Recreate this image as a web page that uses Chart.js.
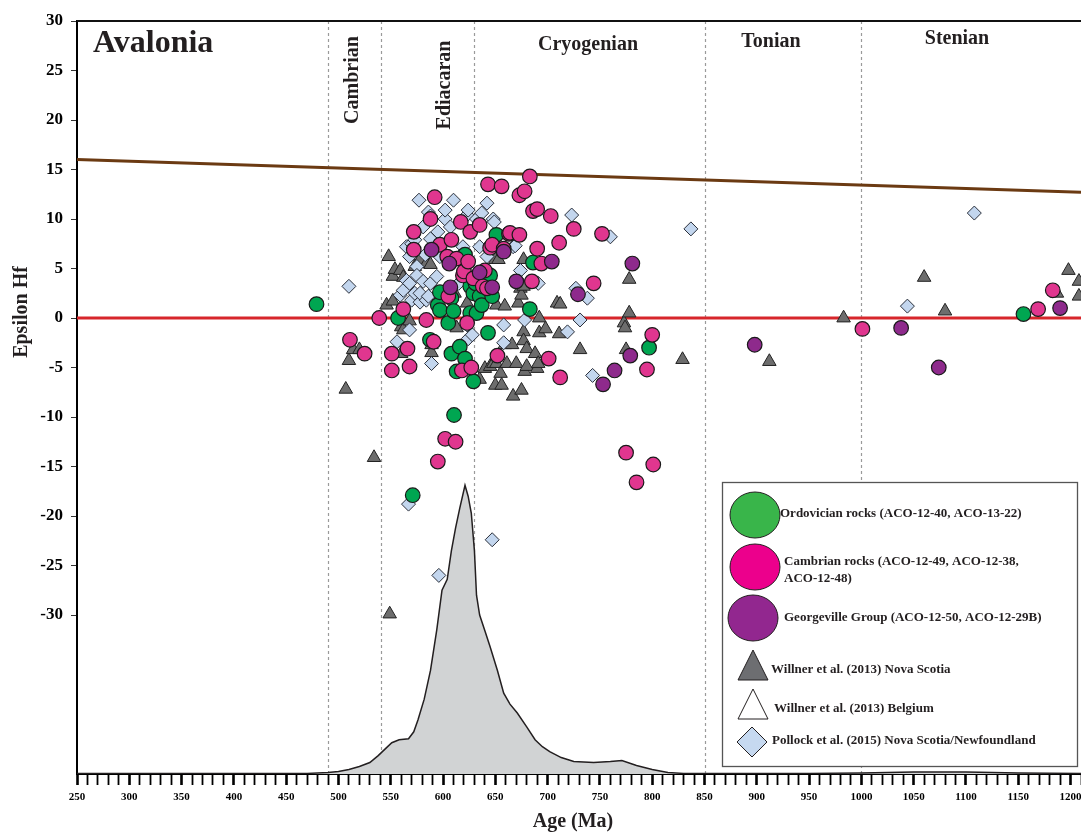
<!DOCTYPE html>
<html>
<head>
<meta charset="utf-8">
<script src="https://cdn.jsdelivr.net/npm/chart.js@4.4.0/dist/chart.umd.min.js"></script>
<style>
  html, body { margin: 0; padding: 0; background: #fff; }
  #wrap { width: 1081px; height: 834px; }
</style>
</head>
<body>
<div id="wrap"><canvas id="chart" width="1081" height="834"></canvas></div>
<script>
// ---- data (age Ma, epsilon Hf) ----
const ordovician = [[479,1.4],[557,0],[571,-17.9],[587.5,-2.2],[595,1.3],[597,2.6],[597,0.8],[605,-0.5],[608,-3.6],[608,2.0],[610,0.7],[610.5,-9.8],[613,-5.4],[616,-2.9],[619,6.2],[621,-4.1],[621,6.4],[626,3.2],[626,0.5],[629,-6.4],[629,2.5],[631,3.5],[632,0.5],[635,2.2],[637,1.3],[637,4.3],[643,-1.5],[645,4.3],[647,2.2],[651,8.4],[683,0.9],[686,5.6],[797,-3.0],[1155,0.4]];
const cambrian = [[511,-2.2],[525,-3.6],[539,0],[551,-3.6],[551,-5.3],[562,0.9],[566,-3.1],[568,-4.9],[572,8.7],[572,6.9],[584,-0.2],[588,10.0],[591,-2.4],[592,12.2],[595,-14.5],[597,7.4],[602,-12.2],[604,6.2],[605,2.2],[608,7.9],[612,-12.5],[613,6.0],[617,9.7],[618,-5.3],[619,4.3],[620,4.7],[623,-0.5],[624,5.7],[626,8.7],[627,-5.0],[629,4.0],[635,9.4],[638,3.2],[640,4.8],[642,3.0],[643,13.5],[645,7.1],[647,7.4],[652,-3.8],[656,13.3],[658,7.0],[663,8.5],[664,8.6],[673,8.4],[673,12.4],[678,12.8],[683,14.3],[685,3.7],[686,10.8],[690,11.0],[690,7.0],[694,5.5],[701,-4.1],[703,10.3],[711,7.6],[712,-6.0],[725,9.0],[744,3.5],[752,8.5],[775,-13.6],[785,-16.6],[795,-5.2],[800,-1.7],[801,-14.8],[1001,-1.1],[1169,0.9],[1183,2.8]];
const georgeville = [[589,6.9],[606,5.5],[607,3.1],[635,4.6],[647,3.1],[658,6.7],[670,3.7],[704,5.7],[729,2.4],[753,-6.7],[764,-5.3],[779,-3.8],[781,5.5],[898,-2.7],[1038,-1.0],[1074,-5.0],[1190,1.0]];
const willnerNS = [[507,-7.2],[510,-4.3],[514,-3.2],[520,-3.2],[534,-14.1],[546,1.3],[548,6.2],[549,-29.9],[552,1.7],[552,4.2],[554,4.9],[559,4.8],[560,-0.9],[560,-3.6],[562,4.1],[562,-1.2],[568,-0.3],[573,5.2],[576,5.5],[578,5.9],[584,5.5],[588,5.4],[589,-3.5],[589,-2.7],[611,2.5],[613,-1.0],[623,1.5],[635,1.1],[635,-6.2],[640,-5.1],[645,-4.9],[648,-4.6],[650,5.9],[650,-6.8],[651,1.3],[651,-4.6],[653,5.9],[655,-5.6],[656,-6.8],[659,1.2],[659,-2.7],[661,-4.6],[666,-2.7],[667,-7.9],[670,-4.6],[672,1.5],[674,3.0],[675,2.3],[675,-7.3],[677,5.9],[677,3.2],[677,-1.4],[677,-2.3],[678,-5.4],[680,-3.1],[680,-4.9],[688,-3.6],[690,-5.1],[691,-4.6],[692,0],[692,-1.5],[698,-1.1],[709,1.5],[711,-1.6],[712,1.4],[731,-3.2],[773,-0.5],[774,-1.0],[775,-3.2],[778,0.5],[778,3.9],[829,-4.2],[912,-4.4],[983,0],[1060,4.1],[1080,0.7],[1187,2.5],[1198,4.8],[1208,3.7],[1208,2.2]];
const willnerBelgium = [];
const pollock = [[510,3.2],[556,-2.4],[559,2.3],[562,2.8],[565,7.2],[565,3.8],[567,-18.8],[568,-1.2],[568,3.5],[568,6.2],[570,7.5],[570,1.8],[573,7.9],[573,2.5],[575,5.2],[575,4.3],[577,11.9],[578,1.6],[578,2.5],[581,9.2],[581,3.7],[583,6.4],[584,1.8],[586,10.7],[586,2.2],[588,10.3],[588,8.0],[588,3.5],[589,-4.6],[594,4.2],[595,8.7],[596,-26.0],[597,6.2],[602,10.0],[602,10.9],[607,9.2],[610,11.9],[615,3.5],[619,7.2],[623,10.4],[623,-0.7],[624,10.9],[624,-2.1],[628,-1.7],[632,10.0],[635,7.2],[637,10.6],[642,11.6],[642,6.2],[647,-22.4],[648,10.0],[649,9.7],[655,6.9],[658,-0.7],[658,-2.5],[667,7.2],[669,7.3],[674,4.8],[678,-0.2],[691,3.5],[719,-1.4],[723,10.4],[727,3.0],[731,-0.2],[738,2.0],[743,-5.8],[760,8.2],[837,9.0],[1044,1.2],[1108,10.6]];

// depleted mantle and CHUR reference lines
const dmAge = [250, 1210];
const dmEps = [16.0, 12.7];
const churAge = [250, 1210];
const churEps = [0, 0];

// detrital zircon age distribution (drawn on the epsilon scale, baseline at the bottom)
const densityAge = [250,450,470,490,500,510,520,530,538,545,551,558,567,572,576,582,588,594,599,604,608,612,616,621,624,627,630,632,635,640,645,652,658,664,671,680,688,695,702,713,725,744,760,771,785,800,815,830,870,950,1000,1050,1100,1150,1210];
const densityVal = [-46,-46,-46,-45.9,-45.8,-45.6,-45.3,-44.9,-44.2,-43.5,-42.9,-42.6,-42.5,-41.8,-40.6,-38.5,-35.6,-31.5,-27.5,-26.4,-23.5,-21.2,-19.2,-16.9,-18.0,-19.7,-23.5,-28.0,-30.0,-31.6,-33.2,-35.6,-37.9,-39.0,-39.9,-41.3,-42.6,-43.3,-43.8,-44.4,-44.8,-44.9,-44.8,-44.7,-45.2,-45.6,-45.9,-46,-46,-46,-45.95,-45.85,-45.85,-45.95,-46];

const boundaries = [490, 541, 630, 850, 1000];
const yTicks = [-30,-25,-20,-15,-10,-5,0,5,10,15,20,25,30];
const xTicks = [];
for (let v = 250; v <= 1210; v += 10) xTicks.push(v);

const SERIF = "'Liberation Serif', 'Times New Roman', serif";

function pts(arr) { return arr.map(p => ({ x: p[0], y: p[1] })); }
function zip(a, b) { return a.map((v, i) => ({ x: v, y: b[i] })); }

const decorPlugin = {
  id: 'decor',
  beforeDatasetsDraw(chart) {
    const { ctx, chartArea: a, scales: { x } } = chart;
    ctx.save();
    ctx.strokeStyle = '#9a9a9a';
    ctx.lineWidth = 1.2;
    ctx.setLineDash([3, 3]);
    boundaries.forEach(b => {
      const px = Math.round(x.getPixelForValue(b)) + 0.5;
      ctx.beginPath(); ctx.moveTo(px, a.top); ctx.lineTo(px, a.bottom); ctx.stroke();
    });
    ctx.setLineDash([]);
    ctx.strokeStyle = '#111';
    ctx.lineWidth = 2;
    ctx.beginPath(); ctx.moveTo(a.left, a.top); ctx.lineTo(a.right, a.top); ctx.stroke();
    ctx.restore();
  },
  afterDraw(chart) {
    const { ctx } = chart;
    ctx.save();
    ctx.fillStyle = '#231f20';
    // title inside plot
    ctx.font = 'bold 32px ' + SERIF;
    ctx.textAlign = 'left'; ctx.textBaseline = 'alphabetic';
    ctx.fillText('Avalonia', 93, 52);
    // periods
    ctx.font = 'bold 20px ' + SERIF;
    ctx.textAlign = 'center'; ctx.textBaseline = 'middle';
    ctx.fillText('Cryogenian', 588, 45);
    ctx.fillText('Tonian', 771, 42);
    ctx.fillText('Stenian', 957, 39);
    [['Cambrian', 353, 80], ['Ediacaran', 445, 85]].forEach(t => {
      ctx.save(); ctx.translate(t[1], t[2]); ctx.rotate(-Math.PI / 2);
      ctx.fillText(t[0], 0, 0); ctx.restore();
    });
    // axis titles
    ctx.font = 'bold 20px ' + SERIF;
    ctx.fillText('Age (Ma)', 573, 822);
    ctx.save(); ctx.translate(22, 312); ctx.rotate(-Math.PI / 2);
    ctx.fillText('Epsilon Hf', 0, 0); ctx.restore();

    // legend box
    ctx.fillStyle = '#fff';
    ctx.fillRect(722, 482, 355, 284);
    ctx.strokeStyle = '#555'; ctx.lineWidth = 1.3;
    ctx.strokeRect(722.5, 482.5, 355, 284);
    ctx.strokeStyle = '#231f20'; ctx.lineWidth = 1;
    const ell = (cx, cy, col) => {
      ctx.beginPath(); ctx.ellipse(cx, cy, 25, 23, 0, 0, Math.PI * 2);
      ctx.fillStyle = col; ctx.fill(); ctx.stroke();
    };
    ell(755, 515, '#39b54a');
    ell(755, 567, '#ec008c');
    ell(753, 618, '#92278f');
    const tri = (cx, top, col) => {
      ctx.beginPath(); ctx.moveTo(cx, top); ctx.lineTo(cx + 15, top + 30); ctx.lineTo(cx - 15, top + 30); ctx.closePath();
      ctx.fillStyle = col; ctx.fill(); ctx.stroke();
    };
    tri(753, 650, '#6d6e71');
    tri(753, 689, '#ffffff');
    ctx.beginPath(); ctx.moveTo(752, 727); ctx.lineTo(767, 742); ctx.lineTo(752, 757); ctx.lineTo(737, 742); ctx.closePath();
    ctx.fillStyle = '#c6d9f0'; ctx.fill(); ctx.stroke();

    ctx.fillStyle = '#231f20';
    ctx.font = 'bold 13px ' + SERIF;
    ctx.textAlign = 'left'; ctx.textBaseline = 'middle';
    ctx.fillText('Ordovician rocks (ACO-12-40, ACO-13-22)', 780, 514);
    ctx.fillText('Cambrian rocks (ACO-12-49, ACO-12-38,', 784, 562);
    ctx.fillText('ACO-12-48)', 784, 579);
    ctx.fillText('Georgeville Group (ACO-12-50, ACO-12-29B)', 784, 618);
    ctx.fillText('Willner et al. (2013) Nova Scotia', 771, 670);
    ctx.fillText('Willner et al. (2013) Belgium', 774, 709);
    ctx.fillText('Pollock et al. (2015) Nova Scotia/Newfoundland', 772, 741);
    ctx.restore();
  }
};

const circle = (label, data, fill, order) => ({
  type: 'scatter', label, data: pts(data), order,
  pointStyle: 'circle', pointRadius: 7.3, pointBackgroundColor: fill,
  pointBorderColor: '#1a1a1a', pointBorderWidth: 1.2, pointHoverRadius: 7.3
});

new Chart(document.getElementById('chart'), {
  type: 'scatter',
  data: {
    datasets: [
      circle('Georgeville Group (ACO-12-50, ACO-12-29B)', georgeville, '#8e2a8c', 1),
      circle('Cambrian rocks (ACO-12-49, ACO-12-38, ACO-12-48)', cambrian, '#e0368f', 2),
      circle('Ordovician rocks (ACO-12-40, ACO-13-22)', ordovician, '#00a651', 3),
      { type: 'scatter', label: 'Pollock et al. (2015) Nova Scotia/Newfoundland', data: pts(pollock), order: 4,
        pointStyle: 'rectRot', pointRadius: 7, pointBackgroundColor: '#c3d6ee', pointBorderColor: '#2a2f3a', pointBorderWidth: 1 },
      { type: 'scatter', label: 'Willner et al. (2013) Belgium', data: pts(willnerBelgium), order: 5,
        pointStyle: 'triangle', pointRadius: 7.8, pointBackgroundColor: '#fff', pointBorderColor: '#222', pointBorderWidth: 1 },
      { type: 'scatter', label: 'Willner et al. (2013) Nova Scotia', data: pts(willnerNS), order: 6,
        pointStyle: 'triangle', pointRadius: 7.8, pointBackgroundColor: '#6d6d6d', pointBorderColor: '#222', pointBorderWidth: 1 },
      { type: 'line', label: 'CHUR', data: zip(churAge, churEps), order: 7,
        borderColor: '#d7262b', borderWidth: 3, pointRadius: 0, fill: false },
      { type: 'line', label: 'Depleted mantle', data: zip(dmAge, dmEps), order: 8,
        borderColor: '#6b3a12', borderWidth: 3, pointRadius: 0, fill: false },
      { type: 'line', label: 'Age distribution', data: zip(densityAge, densityVal), order: 9,
        borderColor: '#231f20', borderWidth: 1.5, backgroundColor: '#d1d3d4', pointRadius: 0,
        fill: 'start', tension: 0 }
    ]
  },
  options: {
    responsive: false,
    animation: false,
    layout: { autoPadding: false, padding: { top: 21, right: 0, bottom: 0, left: 0 } },
    plugins: { legend: { display: false }, tooltip: { enabled: false } },
    scales: {
      x: {
        type: 'linear', min: 250, max: 1210,
        afterBuildTicks: s => { s.ticks = xTicks.map(v => ({ value: v })); },
        afterFit: s => { s.height = 60; s.paddingLeft = 0; s.paddingRight = 0; },
        ticks: {
          autoSkip: false, maxRotation: 0, padding: 6, color: '#000',
          font: { family: SERIF, size: 11, weight: 'bold' },
          callback: v => (v % 50 === 0 && v <= 1200) ? String(v) : ''
        },
        grid: { drawOnChartArea: false, tickLength: 11, tickColor: '#000',
                tickWidth: c => (c.tick && c.tick.value % 50 === 0) ? 2.6 : 1.8 },
        border: { color: '#000', width: 2 }
      },
      y: {
        type: 'linear', min: -46.06, max: 30,
        afterBuildTicks: s => { s.ticks = yTicks.map(v => ({ value: v })); },
        afterFit: s => { s.width = 77; s.paddingTop = 0; s.paddingBottom = 0; },
        ticks: { padding: 8, color: '#000', font: { family: SERIF, size: 17, weight: 'bold' } },
        grid: { drawOnChartArea: false, tickLength: 6, tickColor: '#333', tickWidth: 1 },
        border: { color: '#000', width: 2 }
      }
    }
  },
  plugins: [decorPlugin]
});
</script>
</body>
</html>
